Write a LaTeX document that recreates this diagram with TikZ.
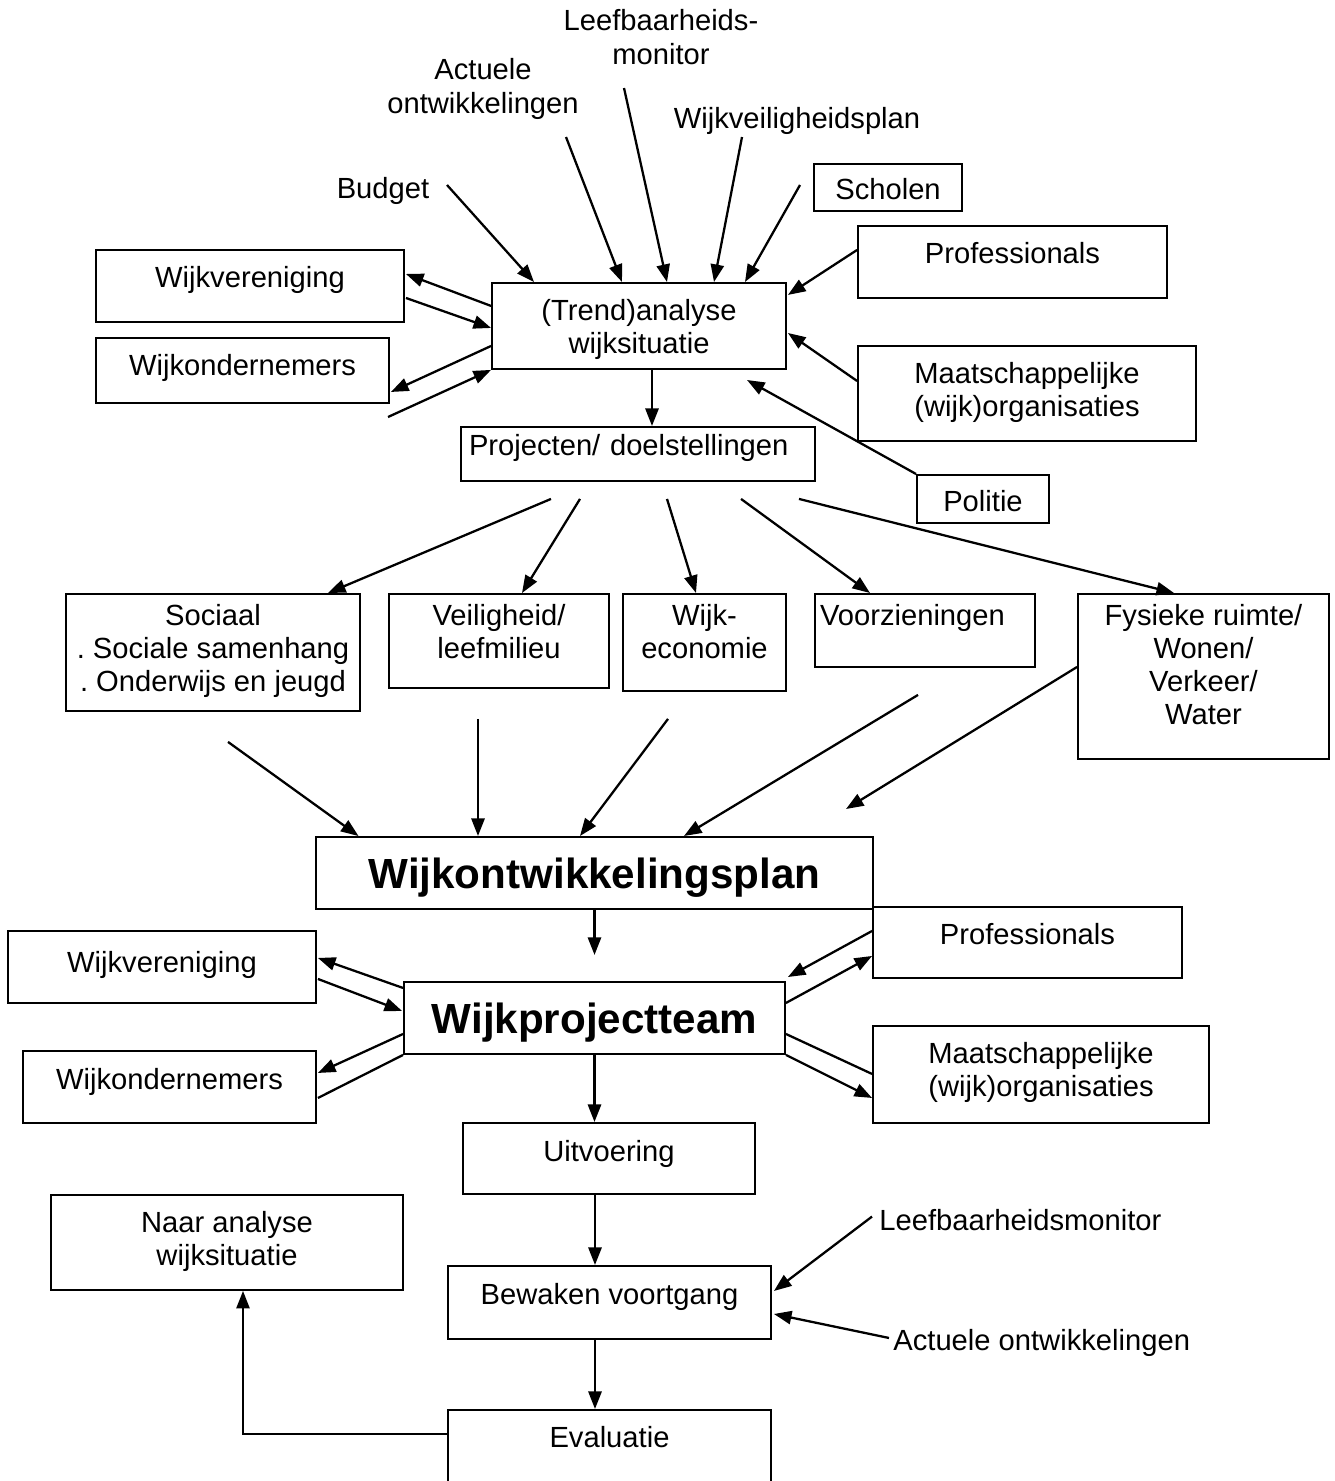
\documentclass[tikz,border=0pt]{standalone}
\usepackage{fontspec}
\setmainfont{Liberation Sans}
\usetikzlibrary{arrows.meta,calc}
\frenchspacing

\begin{document}
\begin{tikzpicture}[x=0.02cm,y=-0.02cm,
  every node/.style={font=\fontsize{16.6}{18.8}\selectfont},
  box/.style={draw, line width=1.1pt, anchor=north, align=center, inner xsep=4pt, inner ysep=0pt, text height=0.76cm},
  rowbox/.style={box, text height=0.64cm},
  big/.style={box, font=\fontsize{24}{28}\selectfont\bfseries, text height=1.04cm, text depth=0.40cm},
  lbl/.style={inner sep=0pt, align=center, anchor=base},
  arr/.style={-{Triangle[length=10pt,width=7.5pt]}, line width=1.3pt},
  link/.style={line width=1.3pt}]
\useasboundingbox (0,0) rectangle (1335,1481);
\clip (0,0) rectangle (1335,1481);
% Analysis and its sources
\node[lbl] (lbm) at (661,64) {Leefbaarheids-\\monitor};
\node[lbl] (act) at (483,113) {Actuele\\ontwikkelingen};
\node[lbl] (wvp) at (797,128) {Wijkveiligheidsplan};
\node[lbl] (bud) at (383,198) {Budget};
\node[box, minimum width=2.96cm, text height=0.72cm, text depth=0.22cm] (sch) at (888,163) {Scholen};
\node[box, minimum width=6.18cm, text depth=0.68cm] (prof1) at (1012.5,225) {Professionals};
\node[box, minimum width=6.76cm, text height=1.42cm, text depth=0.48cm] (maat1) at (1027,345) {Maatschappelijke\\(wijk)organisaties};
\node[box, minimum width=2.64cm, text height=0.74cm, text depth=0.22cm] (pol) at (983,474) {Politie};
\node[box, minimum width=5.88cm, text height=1.42cm, text depth=0.30cm] (ana) at (639,282) {(Trend)analyse\\wijksituatie};
\node[box, minimum width=6.16cm, text depth=0.68cm] (wv1) at (250,249) {Wijkvereniging};
\node[box, minimum width=5.86cm, text depth=0.54cm] (wo1) at (242.5,337) {Wijkondernemers};
\node[box, align=left, inner xsep=0.16cm, text width=6.76cm, text height=0.58cm, text depth=0.50cm] (proj) at (638,426) {Projecten/ doelstellingen};
% Themes
\node[rowbox, minimum width=5.88cm, text height=1.96cm, text depth=0.38cm] (soc) at (213,593) {Sociaal\\. Sociale samenhang\\. Onderwijs en jeugd};
\node[rowbox, minimum width=4.4cm, text height=1.30cm, text depth=0.58cm] (veil) at (499,593) {Veiligheid/\\leefmilieu};
\node[rowbox, minimum width=3.26cm, text height=1.30cm, text depth=0.64cm] (econ) at (704.5,593) {Wijk-\\economie};
\node[rowbox, align=left, inner xsep=0.1cm, text width=4.2cm, text depth=0.82cm] (voorz) at (925,593) {Voorzieningen};
\node[rowbox, minimum width=5.02cm, text height=2.62cm, text depth=0.68cm] (fys) at (1203.5,593) {Fysieke ruimte/\\Wonen/\\Verkeer/\\Water};
% Plan and team
\node[big, minimum width=11.14cm] (wop) at (594.5,836) {Wijkontwikkelingsplan};
\node[big, minimum width=7.62cm] (wpt) at (594.5,981) {Wijkprojectteam};
\node[box, minimum width=6.16cm, text height=0.84cm, text depth=0.60cm] (wv2) at (162,930) {Wijkvereniging};
\node[box, minimum width=5.86cm, text height=0.78cm, text depth=0.66cm] (wo2) at (169.5,1050) {Wijkondernemers};
\node[box, minimum width=6.18cm, text depth=0.66cm] (prof2) at (1027.5,906) {Professionals};
\node[box, minimum width=6.72cm, text height=1.42cm, text depth=0.52cm] (maat2) at (1041,1025) {Maatschappelijke\\(wijk)organisaties};
% Execution
\node[box, minimum width=5.84cm, text height=0.78cm, text depth=0.64cm] (uitv) at (609,1122) {Uitvoering};
\node[box, minimum width=7.04cm, text height=1.42cm, text depth=0.48cm] (naar) at (227,1194) {Naar analyse\\wijksituatie};
\node[box, minimum width=6.46cm, text height=0.78cm, text depth=0.68cm] (bew) at (609.5,1265) {Bewaken voortgang};
\node[box, minimum width=6.46cm, text depth=1.00cm] (eval) at (609.5,1409) {Evaluatie};
\node[lbl, anchor=base west] (lbm2) at (879,1230) {Leefbaarheidsmonitor};
\node[lbl, anchor=base west] (act2) at (893,1350) {Actuele ontwikkelingen};

% Free ends
\coordinate (bud-o) at (447,185);
\coordinate (act-o) at (566,137);
\coordinate (lbm-o) at (624,88);
\coordinate (wvp-o) at (742,137);
\coordinate (sch-o) at (800,185);
\coordinate (wo1-in) at (388,417);
\coordinate (pol-in) at (747,380);
\coordinate (fys-out) at (846,809);
\coordinate (wop-out) at ($(wop.south)+(0,45)$);

% Arrows round the analysis
\foreach \src/\dx in {bud-o/-105, act-o/-17, lbm-o/28, wvp-o/75, sch-o/106}
  \draw[arr] (\src) -- ($(ana.north)+(\dx,0)$);
\draw[arr] ($(ana.west)+(0,-20)$) -- ($(wv1.east)+(1,-12)$);
\draw[arr] ($(wv1.east)+(1,12)$) -- ($(ana.west)+(0,2)$);
\draw[arr] ($(ana.west)+(0,20)$) -- ($(wo1.east)+(1,21.5)$);
\draw[arr] (wo1-in) -- (ana.south west);
\draw[arr] ($(prof1.west)+(0,-12)$) -- ($(ana.east)+(1,-31)$);
\draw[arr] ($(maat1.west)+(0,-12.5)$) -- ($(ana.east)+(1,7)$);
\draw[arr] (pol.north west) -- (pol-in);
\draw[arr] ($(ana.south)+(13,0)$) -- ($(proj.north)+(14,0)$);

% Projects to themes
\foreach \dx/\tgt/\tx in {-87/soc/115, -58/veil/23, 29/econ/-8.5, 103/voorz/-55, 161/fys/-29.5}
  \draw[arr] ($(proj.south)+(\dx,17)$) -- ($(\tgt.north)+(\tx,0)$);

% Themes to plan
\foreach \src/\sx/\sy/\tx in {soc/15/30/-236, veil/-21/30/-116.5, econ/-36.5/27/-14.5, voorz/-7/27/89.5}
  \draw[arr] ($(\src.south)+(\sx,\sy)$) -- ($(wop.north)+(\tx,0)$);
\draw[arr] ($(fys.west)+(0,-9.5)$) -- (fys-out);
\draw[arr] (wop.south) -- (wop-out);

% Team
\draw[arr] ($(wpt.west)+(0,-30)$) -- ($(wv2.east)+(1,-9)$);
\draw[arr] ($(wv2.east)+(1,12)$) -- ($(wpt.west)+(-1,-7)$);
\draw[arr] ($(wpt.west)+(0,16)$) -- ($(wo2.east)+(1,-14)$);
\draw[link] ($(wo2.east)+(1,11)$) -- (wpt.south west);
\draw[arr] ($(prof2.west)+(0,-11.5)$) -- ($(wpt.north east)+(2,-4)$);
\draw[arr] ($(wpt.east)+(0,-15)$) -- ($(prof2.west)+(0,13.5)$);
\draw[link] ($(wpt.east)+(0,16)$) -- ($(maat2.west)+(0,-0.5)$);
\draw[arr] (wpt.south east) -- ($(maat2.west)+(0,23.5)$);

% Execution chain
\draw[arr] (wpt.south) -- (wpt.south |- uitv.north);
\draw[arr] ($(uitv.south)+(-14,0)$) -- ($(bew.north)+(-14.5,0)$);
\draw[arr] ($(bew.south)+(-14.5,0)$) -- ($(eval.north)+(-14.5,0)$);
\draw[arr] ($(eval.north west)+(0,25)$) -| ($(naar.south)+(16,0)$);
\draw[arr] ($(lbm2.west)+(-7,-3)$) -- ($(bew.east)+(2,-11.5)$);
\draw[arr] ($(act2.west)+(-4,-4.5)$) -- ($(bew.east)+(2,11.5)$);
\end{tikzpicture}
\end{document}
